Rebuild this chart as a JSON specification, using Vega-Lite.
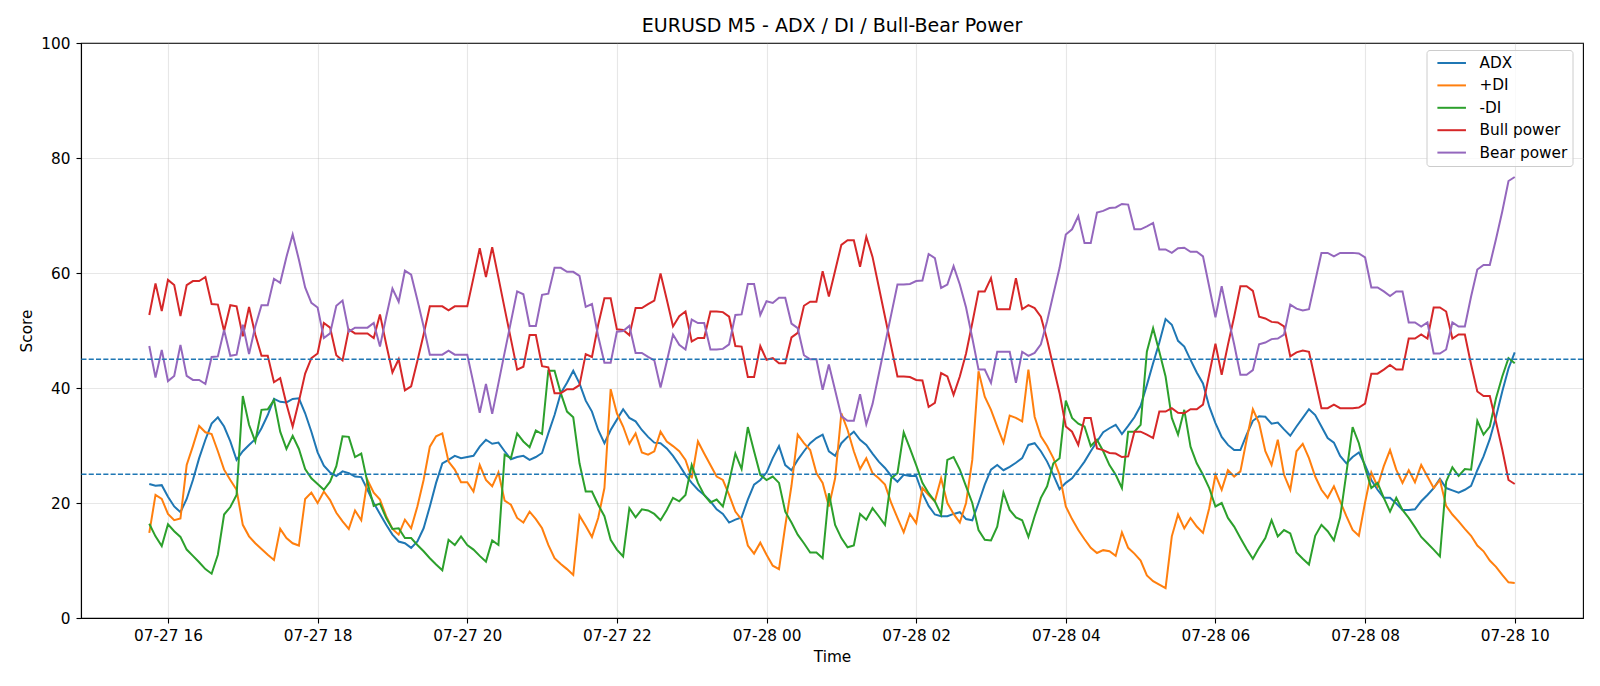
{
  "$schema": "https://vega.github.io/schema/vega-lite/v6.json",
  "width": 1502,
  "height": 575,
  "autosize": {"type": "none"},
  "padding": {"left": 81, "top": 43, "right": 17, "bottom": 68},
  "background": "#ffffff",
  "title": {"text": "EURUSD M5 - ADX / DI / Bull-Bear Power", "font": "DejaVu Sans", "fontSize": 19, "fontWeight": "normal", "color": "#000000", "anchor": "middle", "baseline": "alphabetic", "offset": -14.5},
  "config": {
    "view": {"stroke": "#000000", "strokeWidth": 1.1},
    "axis": {"labelFont": "DejaVu Sans", "labelFontSize": 15.3, "labelColor": "#000000", "titleFont": "DejaVu Sans", "titleFontSize": 15.3, "titleFontWeight": "normal", "titleColor": "#000000", "domainColor": "#000000", "domainWidth": 1.1, "tickColor": "#000000", "tickWidth": 1.1, "tickSize": 5, "gridColor": "#b0b0b0", "gridOpacity": 0.3, "gridWidth": 1.1},
    "legend": {"labelFont": "DejaVu Sans", "labelFontSize": 15.3, "labelColor": "#000000"}
  },
  "data": {"values": [
{"t":"2025-07-27T15:45","adx":23.3,"pdi":14.8,"mdi":16.4,"bull":52.7,"bear":47.3},
{"t":"2025-07-27T15:50","adx":23.0,"pdi":21.4,"mdi":14.2,"bull":58.2,"bear":41.8},
{"t":"2025-07-27T15:55","adx":23.1,"pdi":20.7,"mdi":12.5,"bull":53.4,"bear":46.6},
{"t":"2025-07-27T16:00","adx":21.1,"pdi":18.1,"mdi":16.3,"bull":58.8,"bear":41.2},
{"t":"2025-07-27T16:05","adx":19.4,"pdi":17.0,"mdi":15.1,"bull":57.9,"bear":42.1},
{"t":"2025-07-27T16:10","adx":18.4,"pdi":17.3,"mdi":14.1,"bull":52.5,"bear":47.5},
{"t":"2025-07-27T16:15","adx":20.7,"pdi":26.6,"mdi":11.9,"bull":57.9,"bear":42.1},
{"t":"2025-07-27T16:20","adx":24.0,"pdi":29.9,"mdi":10.8,"bull":58.6,"bear":41.4},
{"t":"2025-07-27T16:25","adx":27.8,"pdi":33.4,"mdi":9.7,"bull":58.6,"bear":41.4},
{"t":"2025-07-27T16:30","adx":31.0,"pdi":32.3,"mdi":8.5,"bull":59.3,"bear":40.7},
{"t":"2025-07-27T16:35","adx":33.8,"pdi":32.0,"mdi":7.7,"bull":54.6,"bear":45.4},
{"t":"2025-07-27T16:40","adx":34.9,"pdi":29.0,"mdi":11.0,"bull":54.5,"bear":45.5},
{"t":"2025-07-27T16:45","adx":33.3,"pdi":25.8,"mdi":18.0,"bull":49.9,"bear":50.1},
{"t":"2025-07-27T16:50","adx":30.7,"pdi":24.0,"mdi":19.3,"bull":54.4,"bear":45.6},
{"t":"2025-07-27T16:55","adx":27.5,"pdi":22.3,"mdi":21.4,"bull":54.2,"bear":45.8},
{"t":"2025-07-27T17:00","adx":29.0,"pdi":16.2,"mdi":38.6,"bull":49.0,"bear":51.0},
{"t":"2025-07-27T17:05","adx":30.1,"pdi":14.2,"mdi":33.6,"bull":54.1,"bear":45.9},
{"t":"2025-07-27T17:10","adx":31.1,"pdi":13.0,"mdi":30.7,"bull":49.3,"bear":50.7},
{"t":"2025-07-27T17:15","adx":33.0,"pdi":12.0,"mdi":36.2,"bull":45.6,"bear":54.4},
{"t":"2025-07-27T17:20","adx":35.3,"pdi":11.0,"mdi":36.3,"bull":45.6,"bear":54.4},
{"t":"2025-07-27T17:25","adx":38.1,"pdi":10.1,"mdi":37.9,"bull":41.0,"bear":59.0},
{"t":"2025-07-27T17:30","adx":37.6,"pdi":15.5,"mdi":32.4,"bull":41.7,"bear":58.3},
{"t":"2025-07-27T17:35","adx":37.5,"pdi":13.9,"mdi":29.4,"bull":37.2,"bear":62.8},
{"t":"2025-07-27T17:40","adx":38.1,"pdi":13.0,"mdi":31.7,"bull":33.3,"bear":66.7},
{"t":"2025-07-27T17:45","adx":38.2,"pdi":12.6,"mdi":29.4,"bull":37.7,"bear":62.3},
{"t":"2025-07-27T17:50","adx":35.6,"pdi":20.7,"mdi":25.9,"bull":42.5,"bear":57.5},
{"t":"2025-07-27T17:55","adx":32.4,"pdi":21.8,"mdi":24.3,"bull":45.2,"bear":54.8},
{"t":"2025-07-27T18:00","adx":28.8,"pdi":20.0,"mdi":23.3,"bull":46.0,"bear":54.0},
{"t":"2025-07-27T18:05","adx":26.5,"pdi":22.0,"mdi":22.3,"bull":51.3,"bear":48.7},
{"t":"2025-07-27T18:10","adx":25.3,"pdi":20.5,"mdi":23.7,"bull":50.5,"bear":49.5},
{"t":"2025-07-27T18:15","adx":24.7,"pdi":18.3,"mdi":26.4,"bull":45.7,"bear":54.3},
{"t":"2025-07-27T18:20","adx":25.5,"pdi":16.8,"mdi":31.6,"bull":44.8,"bear":55.2},
{"t":"2025-07-27T18:25","adx":25.2,"pdi":15.5,"mdi":31.5,"bull":50.2,"bear":49.8},
{"t":"2025-07-27T18:30","adx":24.6,"pdi":18.7,"mdi":28.0,"bull":49.5,"bear":50.5},
{"t":"2025-07-27T18:35","adx":24.5,"pdi":17.0,"mdi":28.6,"bull":49.5,"bear":50.5},
{"t":"2025-07-27T18:40","adx":22.3,"pdi":24.0,"mdi":23.5,"bull":49.5,"bear":50.5},
{"t":"2025-07-27T18:45","adx":20.0,"pdi":21.8,"mdi":19.5,"bull":48.7,"bear":51.3},
{"t":"2025-07-27T18:50","adx":18.1,"pdi":20.6,"mdi":19.9,"bull":52.8,"bear":47.2},
{"t":"2025-07-27T18:55","adx":16.2,"pdi":17.7,"mdi":17.4,"bull":47.6,"bear":52.4},
{"t":"2025-07-27T19:00","adx":14.5,"pdi":15.5,"mdi":15.5,"bull":42.7,"bear":57.3},
{"t":"2025-07-27T19:05","adx":13.3,"pdi":14.5,"mdi":15.6,"bull":45.0,"bear":55.0},
{"t":"2025-07-27T19:10","adx":13.0,"pdi":17.1,"mdi":13.9,"bull":39.6,"bear":60.4},
{"t":"2025-07-27T19:15","adx":12.2,"pdi":15.6,"mdi":13.9,"bull":40.3,"bear":59.7},
{"t":"2025-07-27T19:20","adx":13.3,"pdi":19.4,"mdi":12.7,"bull":44.7,"bear":55.3},
{"t":"2025-07-27T19:25","adx":15.6,"pdi":24.0,"mdi":11.6,"bull":49.3,"bear":50.7},
{"t":"2025-07-27T19:30","adx":19.4,"pdi":29.8,"mdi":10.4,"bull":54.2,"bear":45.8},
{"t":"2025-07-27T19:35","adx":23.5,"pdi":31.6,"mdi":9.3,"bull":54.2,"bear":45.8},
{"t":"2025-07-27T19:40","adx":26.9,"pdi":32.1,"mdi":8.3,"bull":54.2,"bear":45.8},
{"t":"2025-07-27T19:45","adx":27.5,"pdi":27.2,"mdi":13.6,"bull":53.5,"bear":46.5},
{"t":"2025-07-27T19:50","adx":28.2,"pdi":25.8,"mdi":12.7,"bull":54.2,"bear":45.8},
{"t":"2025-07-27T19:55","adx":27.8,"pdi":23.6,"mdi":14.2,"bull":54.2,"bear":45.8},
{"t":"2025-07-27T20:00","adx":28.0,"pdi":23.6,"mdi":12.7,"bull":54.2,"bear":45.8},
{"t":"2025-07-27T20:05","adx":28.2,"pdi":22.0,"mdi":11.9,"bull":59.2,"bear":40.8},
{"t":"2025-07-27T20:10","adx":29.8,"pdi":26.6,"mdi":10.8,"bull":64.3,"bear":35.7},
{"t":"2025-07-27T20:15","adx":31.0,"pdi":24.0,"mdi":9.8,"bull":59.3,"bear":40.7},
{"t":"2025-07-27T20:20","adx":30.3,"pdi":22.9,"mdi":13.5,"bull":64.5,"bear":35.5},
{"t":"2025-07-27T20:25","adx":30.5,"pdi":25.3,"mdi":12.7,"bull":59.2,"bear":40.8},
{"t":"2025-07-27T20:30","adx":29.0,"pdi":20.4,"mdi":28.4,"bull":53.8,"bear":46.2},
{"t":"2025-07-27T20:35","adx":27.6,"pdi":19.7,"mdi":27.8,"bull":48.5,"bear":51.5},
{"t":"2025-07-27T20:40","adx":28.0,"pdi":17.4,"mdi":32.1,"bull":43.2,"bear":56.8},
{"t":"2025-07-27T20:45","adx":28.2,"pdi":16.6,"mdi":30.7,"bull":43.7,"bear":56.3},
{"t":"2025-07-27T20:50","adx":27.5,"pdi":18.5,"mdi":29.7,"bull":49.2,"bear":50.8},
{"t":"2025-07-27T20:55","adx":28.0,"pdi":17.2,"mdi":32.6,"bull":49.2,"bear":50.8},
{"t":"2025-07-27T21:00","adx":28.7,"pdi":15.6,"mdi":32.0,"bull":43.8,"bear":56.2},
{"t":"2025-07-27T21:05","adx":32.1,"pdi":12.7,"mdi":43.0,"bull":43.6,"bear":56.4},
{"t":"2025-07-27T21:10","adx":35.3,"pdi":10.4,"mdi":43.0,"bull":39.1,"bear":60.9},
{"t":"2025-07-27T21:15","adx":39.1,"pdi":9.4,"mdi":39.1,"bull":39.1,"bear":60.9},
{"t":"2025-07-27T21:20","adx":40.9,"pdi":8.5,"mdi":35.9,"bull":39.8,"bear":60.2},
{"t":"2025-07-27T21:25","adx":43.0,"pdi":7.5,"mdi":34.9,"bull":39.8,"bear":60.2},
{"t":"2025-07-27T21:30","adx":40.8,"pdi":17.8,"mdi":26.9,"bull":40.5,"bear":59.5},
{"t":"2025-07-27T21:35","adx":37.8,"pdi":16.0,"mdi":22.0,"bull":45.9,"bear":54.1},
{"t":"2025-07-27T21:40","adx":35.9,"pdi":14.1,"mdi":22.0,"bull":45.4,"bear":54.6},
{"t":"2025-07-27T21:45","adx":32.7,"pdi":17.4,"mdi":19.7,"bull":51.0,"bear":49.0},
{"t":"2025-07-27T21:50","adx":30.4,"pdi":22.6,"mdi":17.7,"bull":55.6,"bear":44.4},
{"t":"2025-07-27T21:55","adx":32.7,"pdi":39.8,"mdi":13.6,"bull":55.6,"bear":44.4},
{"t":"2025-07-27T22:00","adx":34.5,"pdi":35.6,"mdi":11.9,"bull":50.2,"bear":49.8},
{"t":"2025-07-27T22:05","adx":36.3,"pdi":33.3,"mdi":10.7,"bull":50.1,"bear":49.9},
{"t":"2025-07-27T22:10","adx":34.8,"pdi":30.3,"mdi":19.1,"bull":49.2,"bear":50.8},
{"t":"2025-07-27T22:15","adx":34.2,"pdi":32.1,"mdi":17.5,"bull":53.9,"bear":46.1},
{"t":"2025-07-27T22:20","adx":32.7,"pdi":28.8,"mdi":18.9,"bull":53.9,"bear":46.1},
{"t":"2025-07-27T22:25","adx":31.5,"pdi":28.4,"mdi":18.7,"bull":54.6,"bear":45.4},
{"t":"2025-07-27T22:30","adx":30.5,"pdi":29.0,"mdi":18.1,"bull":55.2,"bear":44.8},
{"t":"2025-07-27T22:35","adx":30.4,"pdi":32.4,"mdi":17.0,"bull":59.9,"bear":40.1},
{"t":"2025-07-27T22:40","adx":29.5,"pdi":30.7,"mdi":18.8,"bull":55.4,"bear":44.6},
{"t":"2025-07-27T22:45","adx":28.2,"pdi":29.9,"mdi":20.9,"bull":50.7,"bear":49.3},
{"t":"2025-07-27T22:50","adx":26.6,"pdi":29.0,"mdi":20.3,"bull":52.5,"bear":47.5},
{"t":"2025-07-27T22:55","adx":24.9,"pdi":27.5,"mdi":21.4,"bull":53.3,"bear":46.7},
{"t":"2025-07-27T23:00","adx":23.5,"pdi":24.3,"mdi":26.6,"bull":48.1,"bear":51.9},
{"t":"2025-07-27T23:05","adx":22.3,"pdi":30.7,"mdi":23.5,"bull":48.7,"bear":51.3},
{"t":"2025-07-27T23:10","adx":21.4,"pdi":28.6,"mdi":21.4,"bull":48.7,"bear":51.3},
{"t":"2025-07-27T23:15","adx":20.3,"pdi":26.6,"mdi":20.1,"bull":53.3,"bear":46.7},
{"t":"2025-07-27T23:20","adx":18.9,"pdi":24.6,"mdi":20.6,"bull":53.3,"bear":46.7},
{"t":"2025-07-27T23:25","adx":18.1,"pdi":24.0,"mdi":19.4,"bull":53.2,"bear":46.8},
{"t":"2025-07-27T23:30","adx":16.6,"pdi":21.4,"mdi":23.7,"bull":52.4,"bear":47.6},
{"t":"2025-07-27T23:35","adx":17.1,"pdi":18.5,"mdi":28.6,"bull":47.3,"bear":52.7},
{"t":"2025-07-27T23:40","adx":17.5,"pdi":17.1,"mdi":25.9,"bull":47.2,"bear":52.8},
{"t":"2025-07-27T23:45","adx":20.6,"pdi":12.6,"mdi":33.2,"bull":41.9,"bear":58.1},
{"t":"2025-07-27T23:50","adx":23.2,"pdi":11.2,"mdi":29.0,"bull":41.9,"bear":58.1},
{"t":"2025-07-27T23:55","adx":24.0,"pdi":13.1,"mdi":24.9,"bull":47.3,"bear":52.7},
{"t":"2025-07-28T00:00","adx":25.3,"pdi":11.0,"mdi":24.0,"bull":44.9,"bear":55.1},
{"t":"2025-07-28T00:05","adx":27.8,"pdi":9.1,"mdi":24.6,"bull":45.2,"bear":54.8},
{"t":"2025-07-28T00:10","adx":29.9,"pdi":8.5,"mdi":23.5,"bull":44.3,"bear":55.7},
{"t":"2025-07-28T00:15","adx":26.6,"pdi":16.0,"mdi":18.5,"bull":44.3,"bear":55.7},
{"t":"2025-07-28T00:20","adx":25.7,"pdi":23.0,"mdi":16.6,"bull":48.8,"bear":51.2},
{"t":"2025-07-28T00:25","adx":27.5,"pdi":31.9,"mdi":14.5,"bull":49.6,"bear":50.4},
{"t":"2025-07-28T00:30","adx":29.0,"pdi":30.4,"mdi":13.0,"bull":54.3,"bear":45.7},
{"t":"2025-07-28T00:35","adx":30.4,"pdi":29.2,"mdi":11.4,"bull":55.0,"bear":45.0},
{"t":"2025-07-28T00:40","adx":31.3,"pdi":25.2,"mdi":11.4,"bull":55.0,"bear":45.0},
{"t":"2025-07-28T00:45","adx":31.9,"pdi":23.5,"mdi":10.4,"bull":60.3,"bear":39.7},
{"t":"2025-07-28T00:50","adx":29.0,"pdi":19.4,"mdi":21.7,"bull":55.9,"bear":44.1},
{"t":"2025-07-28T00:55","adx":28.2,"pdi":24.3,"mdi":16.2,"bull":60.4,"bear":39.6},
{"t":"2025-07-28T01:00","adx":30.4,"pdi":35.6,"mdi":13.9,"bull":64.9,"bear":35.1},
{"t":"2025-07-28T01:05","adx":31.5,"pdi":32.7,"mdi":12.3,"bull":65.7,"bear":34.3},
{"t":"2025-07-28T01:10","adx":32.4,"pdi":29.0,"mdi":12.6,"bull":65.7,"bear":34.3},
{"t":"2025-07-28T01:15","adx":31.0,"pdi":25.9,"mdi":18.1,"bull":61.1,"bear":38.9},
{"t":"2025-07-28T01:20","adx":30.1,"pdi":27.8,"mdi":17.1,"bull":66.3,"bear":33.7},
{"t":"2025-07-28T01:25","adx":28.6,"pdi":25.2,"mdi":19.1,"bull":62.8,"bear":37.2},
{"t":"2025-07-28T01:30","adx":27.2,"pdi":24.3,"mdi":17.7,"bull":57.6,"bear":42.4},
{"t":"2025-07-28T01:35","adx":26.1,"pdi":23.2,"mdi":16.2,"bull":52.4,"bear":47.6},
{"t":"2025-07-28T01:40","adx":24.7,"pdi":20.0,"mdi":24.3,"bull":47.2,"bear":52.8},
{"t":"2025-07-28T01:45","adx":23.7,"pdi":17.4,"mdi":25.2,"bull":42.0,"bear":58.0},
{"t":"2025-07-28T01:50","adx":24.9,"pdi":14.9,"mdi":32.3,"bull":42.0,"bear":58.0},
{"t":"2025-07-28T01:55","adx":24.7,"pdi":18.1,"mdi":29.5,"bull":41.9,"bear":58.1},
{"t":"2025-07-28T02:00","adx":24.7,"pdi":16.5,"mdi":26.6,"bull":41.4,"bear":58.6},
{"t":"2025-07-28T02:05","adx":21.7,"pdi":22.6,"mdi":23.5,"bull":41.3,"bear":58.7},
{"t":"2025-07-28T02:10","adx":19.5,"pdi":21.4,"mdi":21.7,"bull":36.7,"bear":63.3},
{"t":"2025-07-28T02:15","adx":18.0,"pdi":20.3,"mdi":20.3,"bull":37.4,"bear":62.6},
{"t":"2025-07-28T02:20","adx":17.7,"pdi":24.3,"mdi":18.0,"bull":42.6,"bear":57.4},
{"t":"2025-07-28T02:25","adx":17.7,"pdi":20.0,"mdi":27.5,"bull":42.0,"bear":58.0},
{"t":"2025-07-28T02:30","adx":18.1,"pdi":18.1,"mdi":28.0,"bull":38.8,"bear":61.2},
{"t":"2025-07-28T02:35","adx":18.4,"pdi":16.6,"mdi":25.8,"bull":42.0,"bear":58.0},
{"t":"2025-07-28T02:40","adx":17.2,"pdi":20.0,"mdi":22.9,"bull":46.0,"bear":54.0},
{"t":"2025-07-28T02:45","adx":17.0,"pdi":27.5,"mdi":20.0,"bull":51.3,"bear":48.7},
{"t":"2025-07-28T02:50","adx":20.0,"pdi":42.9,"mdi":15.3,"bull":56.8,"bear":43.2},
{"t":"2025-07-28T02:55","adx":23.2,"pdi":38.5,"mdi":13.6,"bull":56.8,"bear":43.2},
{"t":"2025-07-28T03:00","adx":25.8,"pdi":36.2,"mdi":13.5,"bull":59.1,"bear":40.9},
{"t":"2025-07-28T03:05","adx":26.6,"pdi":33.3,"mdi":15.9,"bull":53.7,"bear":46.3},
{"t":"2025-07-28T03:10","adx":25.7,"pdi":30.5,"mdi":21.8,"bull":53.7,"bear":46.3},
{"t":"2025-07-28T03:15","adx":26.3,"pdi":35.2,"mdi":18.8,"bull":53.7,"bear":46.3},
{"t":"2025-07-28T03:20","adx":27.0,"pdi":34.8,"mdi":17.5,"bull":59.1,"bear":40.9},
{"t":"2025-07-28T03:25","adx":27.8,"pdi":34.2,"mdi":17.0,"bull":53.7,"bear":46.3},
{"t":"2025-07-28T03:30","adx":30.1,"pdi":43.2,"mdi":14.1,"bull":54.4,"bear":45.6},
{"t":"2025-07-28T03:35","adx":30.4,"pdi":35.0,"mdi":17.7,"bull":53.9,"bear":46.1},
{"t":"2025-07-28T03:40","adx":29.0,"pdi":31.6,"mdi":20.9,"bull":52.4,"bear":47.6},
{"t":"2025-07-28T03:45","adx":27.2,"pdi":29.9,"mdi":22.9,"bull":48.4,"bear":51.6},
{"t":"2025-07-28T03:50","adx":24.9,"pdi":27.8,"mdi":26.9,"bull":43.7,"bear":56.3},
{"t":"2025-07-28T03:55","adx":22.4,"pdi":24.9,"mdi":27.8,"bull":39.1,"bear":60.9},
{"t":"2025-07-28T04:00","adx":23.5,"pdi":19.4,"mdi":37.8,"bull":33.3,"bear":66.7},
{"t":"2025-07-28T04:05","adx":24.3,"pdi":17.2,"mdi":34.8,"bull":32.4,"bear":67.6},
{"t":"2025-07-28T04:10","adx":25.7,"pdi":15.3,"mdi":33.8,"bull":30.1,"bear":69.9},
{"t":"2025-07-28T04:15","adx":27.2,"pdi":13.7,"mdi":33.3,"bull":34.8,"bear":65.2},
{"t":"2025-07-28T04:20","adx":29.0,"pdi":12.2,"mdi":29.9,"bull":34.8,"bear":65.2},
{"t":"2025-07-28T04:25","adx":30.7,"pdi":11.3,"mdi":31.0,"bull":29.5,"bear":70.5},
{"t":"2025-07-28T04:30","adx":32.3,"pdi":11.8,"mdi":29.0,"bull":29.2,"bear":70.8},
{"t":"2025-07-28T04:35","adx":33.0,"pdi":11.6,"mdi":26.6,"bull":28.7,"bear":71.3},
{"t":"2025-07-28T04:40","adx":33.6,"pdi":10.8,"mdi":24.9,"bull":28.6,"bear":71.4},
{"t":"2025-07-28T04:45","adx":32.0,"pdi":14.9,"mdi":22.6,"bull":28.0,"bear":72.0},
{"t":"2025-07-28T04:50","adx":33.4,"pdi":12.2,"mdi":32.4,"bull":28.1,"bear":71.9},
{"t":"2025-07-28T04:55","adx":34.9,"pdi":11.2,"mdi":32.4,"bull":32.4,"bear":67.6},
{"t":"2025-07-28T05:00","adx":36.9,"pdi":10.0,"mdi":33.6,"bull":32.4,"bear":67.6},
{"t":"2025-07-28T05:05","adx":40.5,"pdi":7.4,"mdi":46.3,"bull":31.9,"bear":68.1},
{"t":"2025-07-28T05:10","adx":44.3,"pdi":6.4,"mdi":50.4,"bull":31.3,"bear":68.7},
{"t":"2025-07-28T05:15","adx":47.9,"pdi":5.8,"mdi":46.3,"bull":35.9,"bear":64.1},
{"t":"2025-07-28T05:20","adx":52.0,"pdi":5.2,"mdi":42.0,"bull":35.9,"bear":64.1},
{"t":"2025-07-28T05:25","adx":51.0,"pdi":14.2,"mdi":34.8,"bull":36.5,"bear":63.5},
{"t":"2025-07-28T05:30","adx":48.2,"pdi":18.0,"mdi":31.9,"bull":35.7,"bear":64.3},
{"t":"2025-07-28T05:35","adx":47.2,"pdi":15.6,"mdi":36.2,"bull":35.6,"bear":64.4},
{"t":"2025-07-28T05:40","adx":44.9,"pdi":17.4,"mdi":29.8,"bull":36.3,"bear":63.7},
{"t":"2025-07-28T05:45","adx":42.7,"pdi":15.9,"mdi":26.9,"bull":36.3,"bear":63.7},
{"t":"2025-07-28T05:50","adx":40.8,"pdi":14.8,"mdi":24.9,"bull":37.1,"bear":62.9},
{"t":"2025-07-28T05:55","adx":36.8,"pdi":19.1,"mdi":22.6,"bull":42.4,"bear":57.6},
{"t":"2025-07-28T06:00","adx":33.9,"pdi":24.9,"mdi":19.4,"bull":47.7,"bear":52.3},
{"t":"2025-07-28T06:05","adx":31.5,"pdi":22.3,"mdi":20.0,"bull":42.3,"bear":57.7},
{"t":"2025-07-28T06:10","adx":30.1,"pdi":25.7,"mdi":17.4,"bull":47.5,"bear":52.5},
{"t":"2025-07-28T06:15","adx":29.2,"pdi":24.6,"mdi":15.9,"bull":52.4,"bear":47.6},
{"t":"2025-07-28T06:20","adx":29.2,"pdi":25.5,"mdi":13.9,"bull":57.7,"bear":42.3},
{"t":"2025-07-28T06:25","adx":31.9,"pdi":31.0,"mdi":12.0,"bull":57.7,"bear":42.3},
{"t":"2025-07-28T06:30","adx":34.3,"pdi":36.3,"mdi":10.3,"bull":56.9,"bear":43.1},
{"t":"2025-07-28T06:35","adx":35.1,"pdi":33.9,"mdi":12.2,"bull":52.4,"bear":47.6},
{"t":"2025-07-28T06:40","adx":35.0,"pdi":29.0,"mdi":13.9,"bull":52.1,"bear":47.9},
{"t":"2025-07-28T06:45","adx":33.8,"pdi":26.6,"mdi":17.0,"bull":51.5,"bear":48.5},
{"t":"2025-07-28T06:50","adx":34.0,"pdi":31.0,"mdi":14.2,"bull":51.4,"bear":48.6},
{"t":"2025-07-28T06:55","adx":32.8,"pdi":24.9,"mdi":15.3,"bull":50.7,"bear":49.3},
{"t":"2025-07-28T07:00","adx":31.7,"pdi":22.3,"mdi":14.7,"bull":45.5,"bear":54.5},
{"t":"2025-07-28T07:05","adx":33.3,"pdi":29.0,"mdi":11.4,"bull":46.2,"bear":53.8},
{"t":"2025-07-28T07:10","adx":34.8,"pdi":30.3,"mdi":10.3,"bull":46.5,"bear":53.5},
{"t":"2025-07-28T07:15","adx":36.3,"pdi":27.8,"mdi":9.3,"bull":46.3,"bear":53.7},
{"t":"2025-07-28T07:20","adx":35.3,"pdi":24.6,"mdi":14.3,"bull":41.4,"bear":58.6},
{"t":"2025-07-28T07:25","adx":33.3,"pdi":22.3,"mdi":16.2,"bull":36.5,"bear":63.5},
{"t":"2025-07-28T07:30","adx":31.3,"pdi":20.9,"mdi":15.1,"bull":36.5,"bear":63.5},
{"t":"2025-07-28T07:35","adx":30.5,"pdi":22.9,"mdi":13.5,"bull":37.1,"bear":62.9},
{"t":"2025-07-28T07:40","adx":28.2,"pdi":20.3,"mdi":17.5,"bull":36.5,"bear":63.5},
{"t":"2025-07-28T07:45","adx":26.9,"pdi":17.7,"mdi":25.2,"bull":36.5,"bear":63.5},
{"t":"2025-07-28T07:50","adx":28.0,"pdi":15.3,"mdi":33.2,"bull":36.5,"bear":63.5},
{"t":"2025-07-28T07:55","adx":28.8,"pdi":14.3,"mdi":30.4,"bull":36.6,"bear":63.4},
{"t":"2025-07-28T08:00","adx":26.6,"pdi":20.1,"mdi":26.1,"bull":37.3,"bear":62.7},
{"t":"2025-07-28T08:05","adx":24.0,"pdi":25.3,"mdi":22.6,"bull":42.5,"bear":57.5},
{"t":"2025-07-28T08:10","adx":22.3,"pdi":22.9,"mdi":23.5,"bull":42.5,"bear":57.5},
{"t":"2025-07-28T08:15","adx":20.9,"pdi":26.4,"mdi":20.9,"bull":43.2,"bear":56.8},
{"t":"2025-07-28T08:20","adx":20.9,"pdi":29.2,"mdi":18.5,"bull":44.0,"bear":56.0},
{"t":"2025-07-28T08:25","adx":19.9,"pdi":25.8,"mdi":20.9,"bull":43.2,"bear":56.8},
{"t":"2025-07-28T08:30","adx":18.8,"pdi":23.5,"mdi":18.8,"bull":43.2,"bear":56.8},
{"t":"2025-07-28T08:35","adx":18.8,"pdi":25.7,"mdi":17.4,"bull":48.6,"bear":51.4},
{"t":"2025-07-28T08:40","adx":18.9,"pdi":23.6,"mdi":15.8,"bull":48.6,"bear":51.4},
{"t":"2025-07-28T08:45","adx":20.3,"pdi":26.6,"mdi":14.1,"bull":49.3,"bear":50.7},
{"t":"2025-07-28T08:50","adx":21.4,"pdi":24.6,"mdi":13.0,"bull":48.6,"bear":51.4},
{"t":"2025-07-28T08:55","adx":22.6,"pdi":22.6,"mdi":11.9,"bull":54.0,"bear":46.0},
{"t":"2025-07-28T09:00","adx":24.2,"pdi":24.0,"mdi":10.7,"bull":54.0,"bear":46.0},
{"t":"2025-07-28T09:05","adx":22.6,"pdi":19.5,"mdi":23.7,"bull":53.3,"bear":46.7},
{"t":"2025-07-28T09:10","adx":22.2,"pdi":18.0,"mdi":26.2,"bull":48.6,"bear":51.4},
{"t":"2025-07-28T09:15","adx":21.8,"pdi":16.8,"mdi":24.7,"bull":49.3,"bear":50.7},
{"t":"2025-07-28T09:20","adx":22.3,"pdi":15.5,"mdi":25.9,"bull":49.3,"bear":50.7},
{"t":"2025-07-28T09:25","adx":23.0,"pdi":14.3,"mdi":25.8,"bull":44.1,"bear":55.9},
{"t":"2025-07-28T09:30","adx":25.7,"pdi":12.6,"mdi":34.3,"bull":39.4,"bear":60.6},
{"t":"2025-07-28T09:35","adx":28.1,"pdi":11.6,"mdi":31.9,"bull":38.6,"bear":61.4},
{"t":"2025-07-28T09:40","adx":31.1,"pdi":10.0,"mdi":33.3,"bull":38.6,"bear":61.4},
{"t":"2025-07-28T09:45","adx":35.0,"pdi":8.9,"mdi":38.2,"bull":34.1,"bear":65.9},
{"t":"2025-07-28T09:50","adx":39.4,"pdi":7.5,"mdi":42.0,"bull":29.3,"bear":70.7},
{"t":"2025-07-28T09:55","adx":43.4,"pdi":6.2,"mdi":45.2,"bull":24.0,"bear":76.0},
{"t":"2025-07-28T10:00","adx":46.2,"pdi":6.1,"mdi":44.3,"bull":23.3,"bear":76.7}
  ]},
  "layer": [
    {
      "transform": [{"fold": ["adx", "pdi", "mdi", "bull", "bear"], "as": ["series", "value"]}],
      "mark": {"type": "line", "strokeWidth": 2, "interpolate": "linear"},
      "encoding": {
        "x": {"field": "t", "type": "temporal", "title": "Time",
          "scale": {"domain": [{"year": 2025, "month": 7, "date": 27, "hours": 14, "minutes": 50, "seconds": 15}, {"year": 2025, "month": 7, "date": 28, "hours": 10, "minutes": 54, "seconds": 45}]},
          "axis": {"format": "%m-%d %H", "labelPadding": 5.5, "titlePadding": 6, "labelFlush": false, "labelOverlap": false, "grid": true,
            "values": [
              {"year": 2025, "month": 7, "date": 27, "hours": 16},
              {"year": 2025, "month": 7, "date": 27, "hours": 18},
              {"year": 2025, "month": 7, "date": 27, "hours": 20},
              {"year": 2025, "month": 7, "date": 27, "hours": 22},
              {"year": 2025, "month": 7, "date": 28, "hours": 0},
              {"year": 2025, "month": 7, "date": 28, "hours": 2},
              {"year": 2025, "month": 7, "date": 28, "hours": 4},
              {"year": 2025, "month": 7, "date": 28, "hours": 6},
              {"year": 2025, "month": 7, "date": 28, "hours": 8},
              {"year": 2025, "month": 7, "date": 28, "hours": 10}
            ]}},
        "y": {"field": "value", "type": "quantitative", "title": "Score",
          "scale": {"domain": [0, 100], "nice": false},
          "axis": {"values": [0, 20, 40, 60, 80, 100], "labelPadding": 6, "titlePadding": 6, "grid": true, "labelFlush": false}},
        "color": {"field": "series", "type": "nominal",
          "scale": {"domain": ["adx", "pdi", "mdi", "bull", "bear"], "range": ["#1f77b4", "#ff7f0e", "#2ca02c", "#d62728", "#9467bd"]},
          "legend": {"title": null, "orient": "none", "legendX": 1345.5, "legendY": 7, "padding": 5, "rowPadding": 5.4,
            "symbolType": "M-0.3,0H3.78", "symbolSize": 196, "symbolStrokeWidth": 2, "labelOffset": 32,
            "strokeColor": "#cccccc", "cornerRadius": 3, "fillColor": "rgba(255,255,255,0.8)",
            "labelExpr": "datum.label == 'adx' ? 'ADX' : datum.label == 'pdi' ? '+DI' : datum.label == 'mdi' ? '-DI' : datum.label == 'bull' ? 'Bull power' : 'Bear power'"}}
      }
    },
    {
      "data": {"values": [{"level": 25}, {"level": 45}]},
      "mark": {"type": "rule", "color": "#1f77b4", "strokeWidth": 1.3, "strokeDash": [5.1, 2.2]},
      "encoding": {"y": {"field": "level", "type": "quantitative"}}
    }
  ]
}
